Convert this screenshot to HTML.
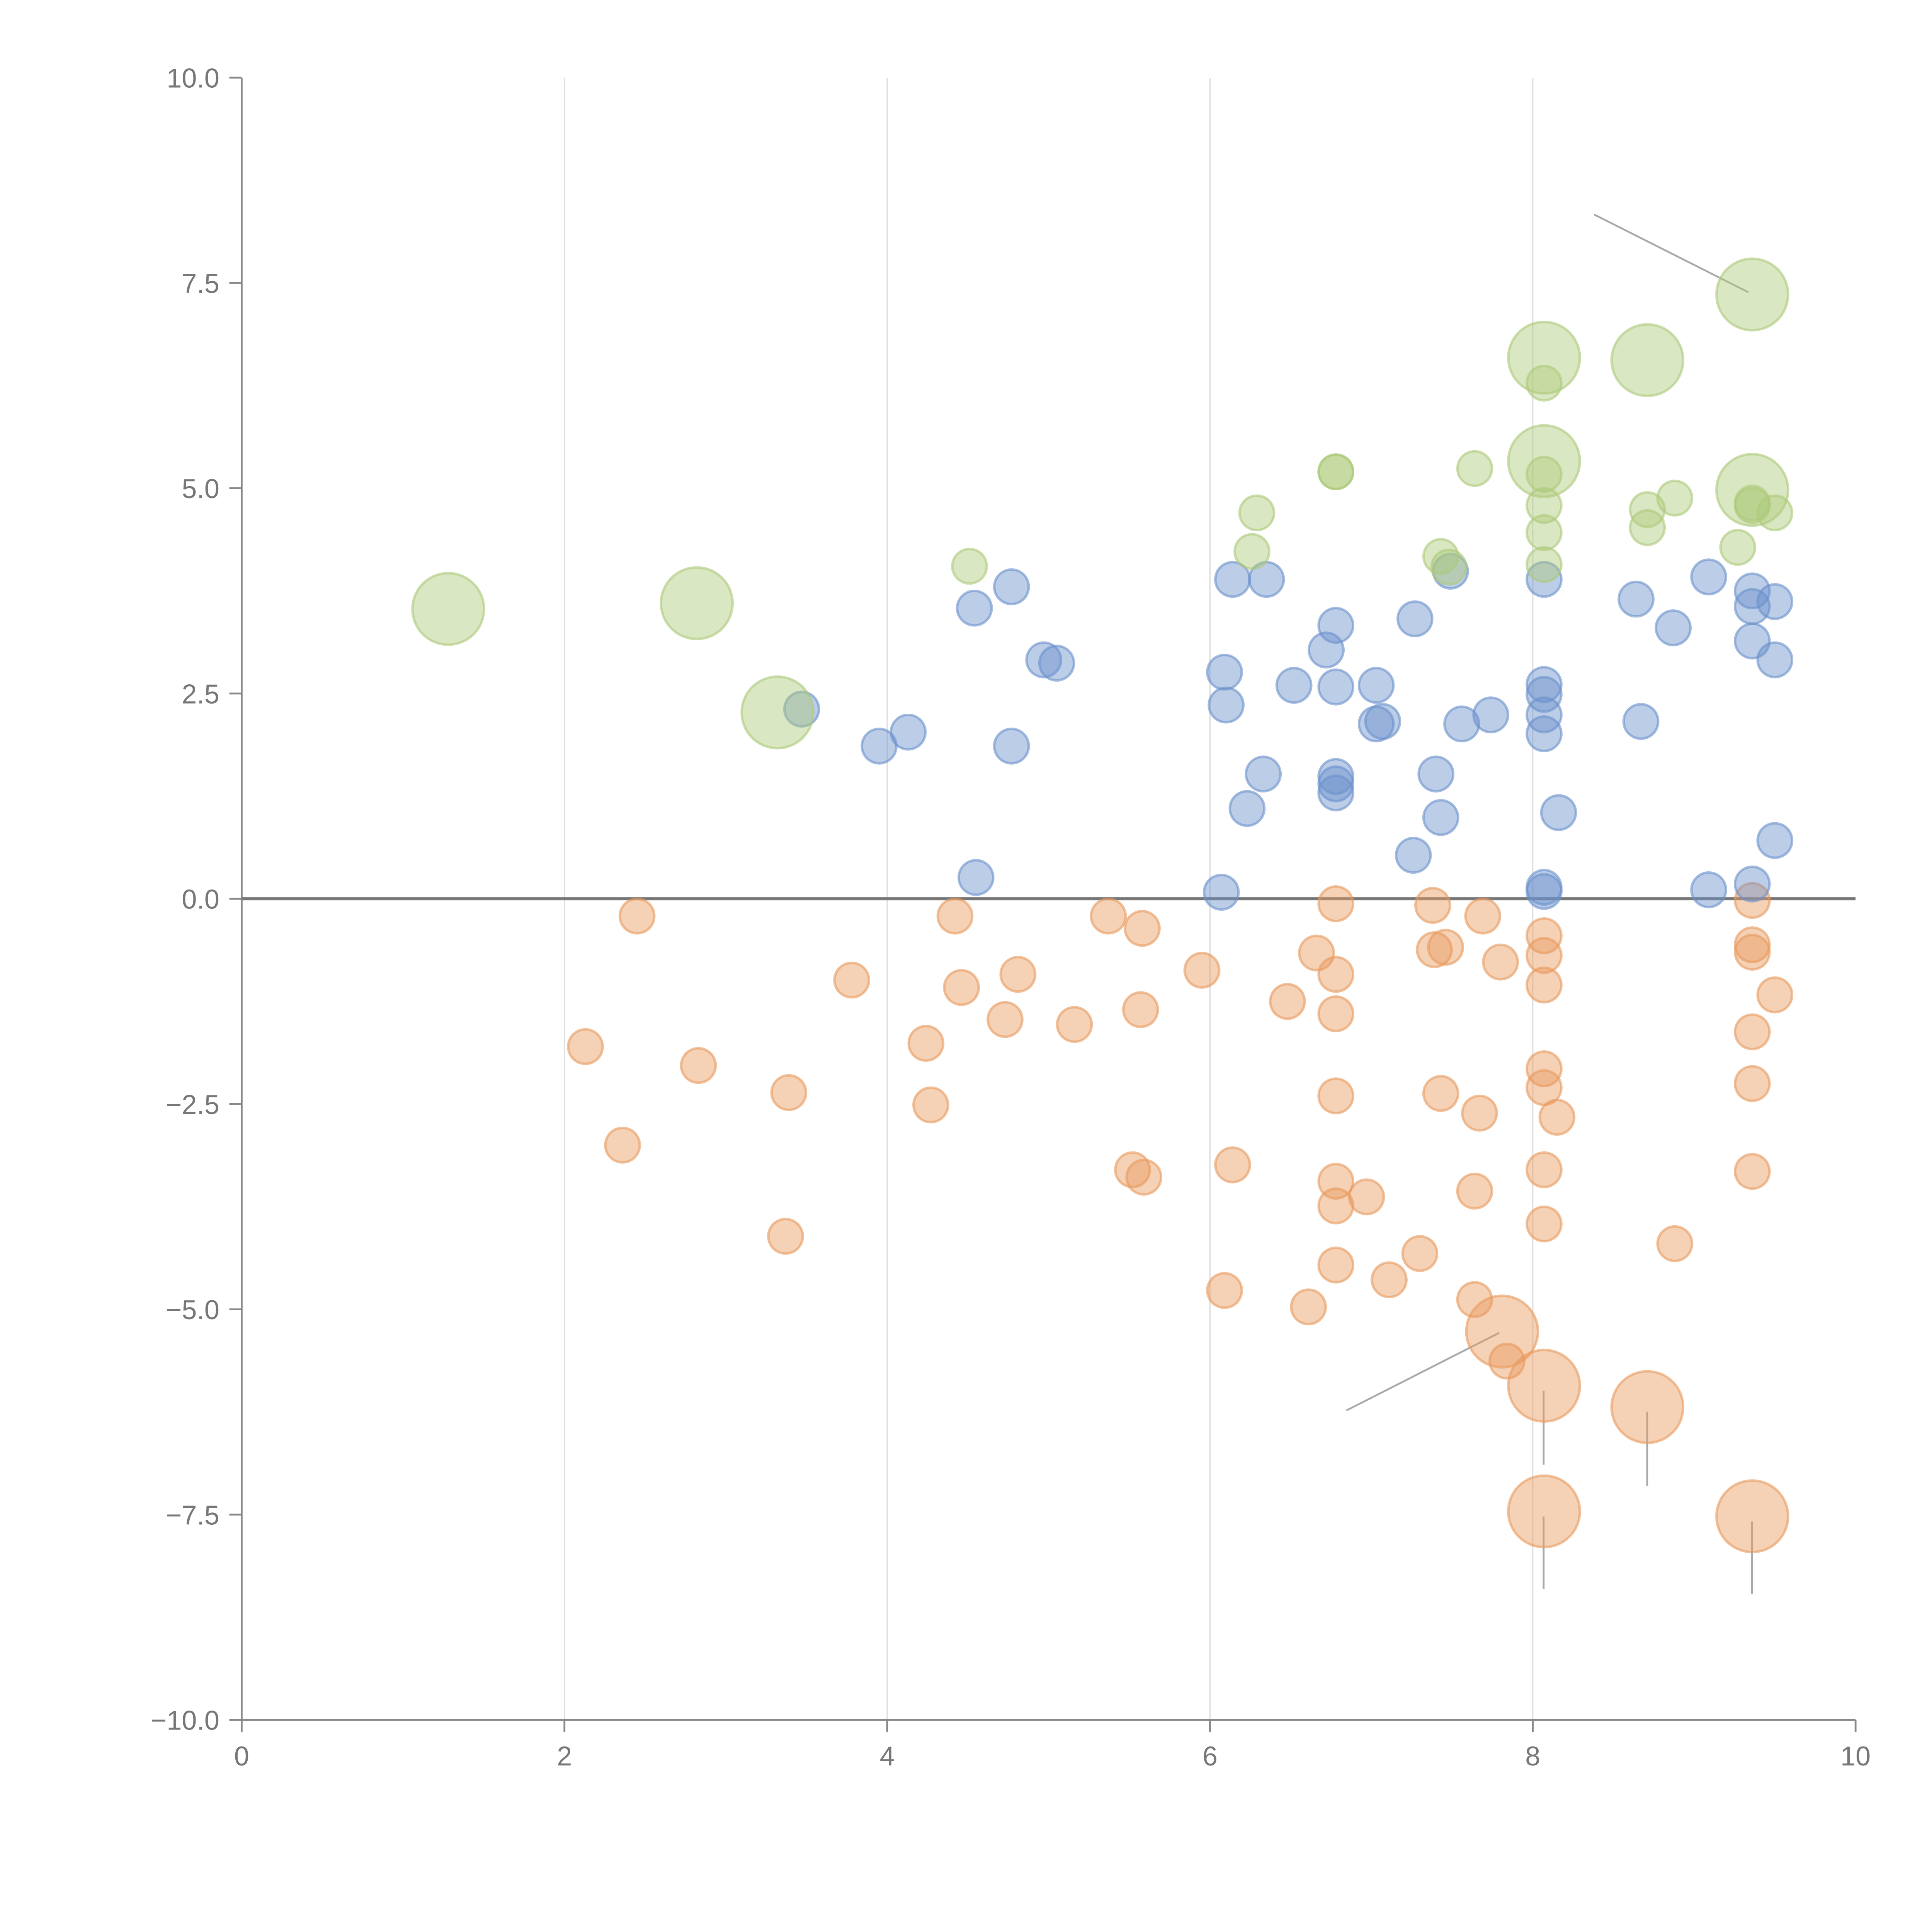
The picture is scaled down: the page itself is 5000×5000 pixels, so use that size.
<!DOCTYPE html>
<html><head><meta charset="utf-8"><style>
html,body{margin:0;padding:0;background:#fff;}
svg{display:block;}
text{font-family:"Liberation Sans",Arial,sans-serif;fill:#777;}
</style></head><body>
<svg id="chart" width="5000" height="5000" viewBox="0 0 1567 1567" xmlns="http://www.w3.org/2000/svg">
<g id="grid"></g>
<g id="axes"></g>
<g id="annotations">
<line x1="1293" y1="174" x2="1418" y2="237" stroke="#aaa" stroke-width="1.5"/>
<line x1="1092" y1="1144" x2="1216" y2="1081" stroke="#aaa" stroke-width="1.5"/>
<line x1="1252" y1="1128" x2="1252" y2="1188" stroke="#aaa" stroke-width="1.5"/>
<line x1="1336" y1="1145" x2="1336" y2="1205" stroke="#aaa" stroke-width="1.5"/>
<line x1="1252" y1="1230" x2="1252" y2="1289" stroke="#aaa" stroke-width="1.5"/>
<line x1="1421" y1="1234" x2="1421" y2="1293" stroke="#aaa" stroke-width="1.5"/>
</g>
<g id="points"></g>
</svg>
<script>
const xTicks=[0,2,4,6,8,10];
const yTicks=[-10,-7.5,-5,-2.5,0,2.5,5,7.5,10];
const greenX=[1.28,2.82,3.32,4.51,6.29,6.26,6.78,6.78,7.64,7.43,7.48,8.07,8.07,8.07,8.07,8.07,8.07,8.07,8.71,9.36,9.36,8.88,8.71,8.71,9.36,9.36,9.50,9.27];
const greenY=[3.53,3.60,2.27,4.05,4.70,4.23,5.20,5.20,5.24,4.17,4.04,6.59,6.28,5.33,5.17,4.79,4.46,4.07,6.56,7.36,4.98,4.88,4.74,4.52,4.82,4.79,4.70,4.28];
const greenS=[4.3,4.3,4.3,1,1,1,1,1,1,1,1,4.3,1,4.3,1,1,1,1,4.3,4.3,4.3,1,1,1,1,1,1,1];
const blueX=[3.47,3.95,4.13,4.54,4.77,4.77,4.55,4.97,5.05,6.09,6.10,6.14,6.35,6.52,6.72,6.78,6.78,6.78,6.78,6.78,6.33,6.23,6.07,7.03,7.03,7.07,7.27,7.49,7.56,7.74,7.40,7.43,7.26,8.07,8.07,8.07,8.07,8.07,8.07,8.07,8.16,8.64,8.67,8.87,9.09,9.36,9.36,9.36,9.50,9.50,9.50,9.09,9.36];
const blueY=[2.31,1.86,2.03,3.54,3.80,1.86,0.26,2.91,2.87,2.76,2.36,3.89,3.89,2.60,3.03,3.33,2.58,1.49,1.40,1.29,1.52,1.10,0.08,2.60,2.13,2.16,3.41,3.99,2.13,2.24,1.52,0.99,0.53,2.61,2.49,2.24,2.01,3.89,0.14,0.09,1.05,3.65,2.16,3.30,3.92,3.75,3.56,3.14,3.62,2.91,0.71,0.11,0.18];
const orangeX=[2.45,2.13,2.83,2.36,3.39,3.37,3.78,4.24,4.27,4.42,4.46,4.73,4.81,5.16,5.37,5.58,5.57,5.52,5.59,5.95,6.14,6.09,6.48,6.61,6.66,6.78,6.78,6.78,6.78,6.78,6.78,6.78,6.97,7.11,7.30,7.38,7.39,7.46,7.43,7.64,7.67,7.64,7.69,7.80,7.84,7.81,8.07,8.07,8.07,8.07,8.07,8.07,8.07,8.07,8.15,8.71,8.07,9.36,8.88,9.36,9.36,9.36,9.50,9.36,9.36,9.36];
const orangeY=[-0.21,-1.80,-2.03,-3.00,-2.36,-4.11,-0.99,-1.76,-2.51,-0.21,-1.08,-1.47,-0.92,-1.53,-0.21,-0.36,-1.35,-3.30,-3.39,-0.87,-3.24,-4.77,-1.25,-4.97,-0.66,-0.06,-0.92,-1.40,-2.40,-3.44,-3.74,-4.46,-3.63,-4.64,-4.32,-0.08,-0.62,-0.59,-2.37,-3.56,-2.61,-4.88,-0.21,-0.77,-5.63,-5.27,-0.45,-0.69,-1.05,-2.07,-2.30,-3.30,-3.96,-5.93,-2.66,-6.19,-7.46,-7.52,-4.20,-0.02,-0.56,-0.65,-1.17,-1.62,-2.25,-3.32];
const orangeS=orangeX.map((v,i)=>[45,53,55,56,57].includes(i)?4.3:1);

const NS='http://www.w3.org/2000/svg';
const X0=196,X1=1505,YT=63,YB=1395;
const xs=v=>X0+(v-0)/(10-0)*(X1-X0);
const ys=v=>YB-(v+10)/20*(YB-YT);
function mk(tag,attrs,parent){const e=document.createElementNS(NS,tag);for(const k in attrs)e.setAttribute(k,attrs[k]);parent.appendChild(e);return e;}
const grid=document.getElementById('grid'),axes=document.getElementById('axes'),pts=document.getElementById('points');
xTicks.forEach(t=>{
  if(t>0&&t<10){const g=mk('line',{x1:xs(t),x2:xs(t),y1:YT,y2:YB,stroke:'#ddd','stroke-width':1},grid);
  
  }
  const tk=mk('line',{x1:xs(t),x2:xs(t),y1:YB,y2:YB+10,stroke:'#888','stroke-width':1.5},axes);
  
  
  const tx=mk('text',{x:xs(t),y:YB+37,'text-anchor':'middle','font-size':22},axes);
  tx.textContent=String(t);
  
  
});
yTicks.forEach(t=>{
  const tk=mk('line',{x1:X0-10,x2:X0,y1:ys(t),y2:ys(t),stroke:'#888','stroke-width':1.5},axes);
  
  
  const tx=mk('text',{x:X0-18,y:ys(t)+8,'text-anchor':'end','font-size':22},axes);
  tx.textContent=(t<0?'\u2212':'')+Math.abs(t).toFixed(1);
  
  
});
const ya=mk('line',{x1:X0,x2:X0,y1:YT,y2:YB,stroke:'#888','stroke-width':1.5},axes);


const xa=mk('line',{x1:X0,x2:X1,y1:YB,y2:YB,stroke:'#888','stroke-width':1.5},axes);


const zl=mk('line',{x1:X0,x2:X1,y1:ys(0),y2:ys(0),stroke:'#777','stroke-width':2.5},axes);


function series(X,Y,S,col,name){
  X.forEach((x,i)=>{
    const c=mk('circle',{cx:xs(x),cy:ys(Y[i]),r:14*Math.sqrt(S?S[i]:1),fill:col,'fill-opacity':0.45,stroke:col,'stroke-opacity':0.6,'stroke-width':2},pts);
    
    
  });
}
series(orangeX,orangeY,orangeS,'#e89a5e','orange-point');
series(blueX,blueY,null,'#6a91cc','blue-point');
series(greenX,greenY,greenS,'#adc97a','green-point');
</script>
</body></html>
